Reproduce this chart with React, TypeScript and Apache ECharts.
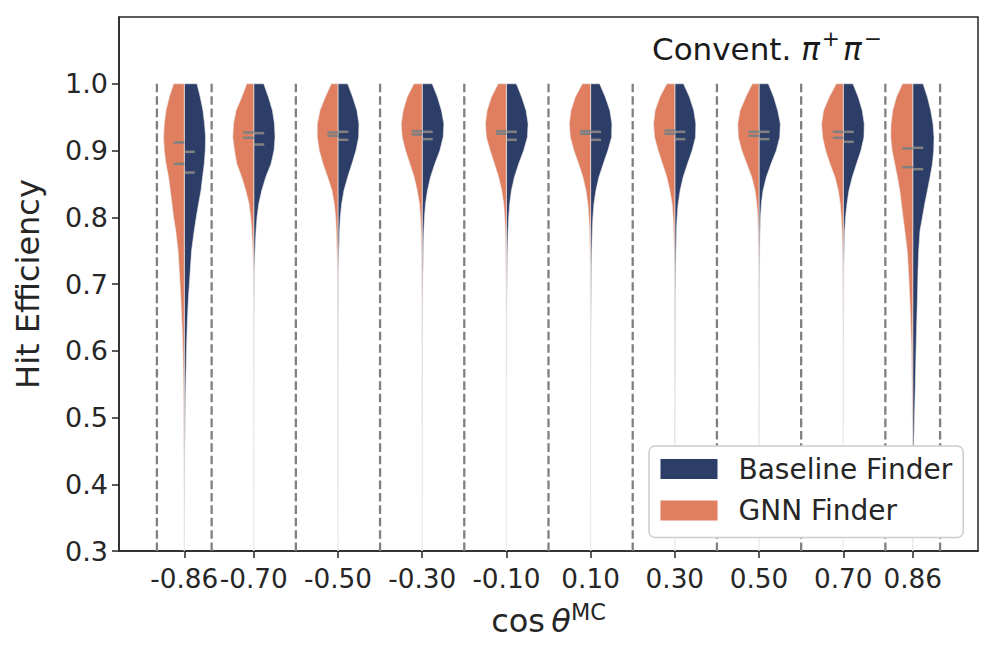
import React, { useEffect, useRef } from 'react';
import * as echarts from 'echarts';

// ---- data ----
const COS_CENTERS = [-0.865, -0.7, -0.5, -0.3, -0.1, 0.1, 0.3, 0.5, 0.7, 0.865];
const COS_LABELS = ['-0.86', '-0.70', '-0.50', '-0.30', '-0.10', '0.10', '0.30', '0.50', '0.70', '0.86'];
const BIN_EDGES = [-0.93, -0.8, -0.6, -0.4, -0.2, 0, 0.2, 0.4, 0.6, 0.8, 0.93];
const Y_TICKS = [0.3, 0.4, 0.5, 0.6, 0.7, 0.8, 0.9, 1.0];
const VLINE_RANGE = [1.0, 0.3];

// efficiency levels at which the violin half-widths (relative density) were read
const Y_LEVELS = [1.0, 0.98, 0.96, 0.94, 0.92, 0.9, 0.88, 0.86, 0.84, 0.82, 0.8, 0.78, 0.75, 0.72, 0.68, 0.64, 0.6, 0.55, 0.5, 0.45, 0.4, 0.35, 0.3];

const GNN_DENSITY = [
  [10.7, 15.0, 18.3, 20.0, 20.7, 20.0, 18.3, 15.7, 14.0, 12.3, 10.7, 8.6, 6.2, 5.0, 3.5, 2.3, 1.4, 0.9, 0.6, 0.4, 0.3, 0.2, 0.1],
  [7.0, 12.0, 17.7, 20.3, 21.0, 19.3, 17.0, 12.0, 8.0, 4.7, 3.0, 2.0, 1.0, 0.5, 0.3, 0.2, 0.15, 0.1, 0.1, 0.05, 0.05, 0.02, 0],
  [6.7, 12.7, 18.0, 20.7, 20.7, 18.7, 15.0, 10.3, 6.0, 3.7, 2.3, 1.7, 1.0, 0.6, 0.4, 0.3, 0.2, 0.15, 0.1, 0.05, 0.05, 0.02, 0],
  [8.3, 15.0, 19.0, 21.0, 20.0, 16.7, 12.3, 8.0, 5.0, 2.7, 1.7, 1.1, 0.7, 0.5, 0.35, 0.25, 0.2, 0.15, 0.1, 0.05, 0.05, 0.02, 0],
  [8.3, 15.0, 19.3, 21.0, 20.0, 16.3, 12.0, 7.7, 4.7, 2.7, 1.7, 1.1, 0.7, 0.5, 0.35, 0.25, 0.2, 0.15, 0.1, 0.05, 0.05, 0.02, 0],
  [8.3, 15.3, 19.7, 21.3, 20.3, 16.7, 12.0, 7.7, 4.7, 2.7, 1.7, 1.1, 0.7, 0.5, 0.35, 0.25, 0.2, 0.15, 0.1, 0.05, 0.05, 0.02, 0],
  [8.0, 15.0, 19.7, 21.3, 20.3, 16.7, 12.3, 8.0, 5.0, 2.7, 1.7, 1.1, 0.7, 0.5, 0.35, 0.25, 0.2, 0.15, 0.1, 0.05, 0.05, 0.02, 0],
  [6.7, 13.3, 19.0, 21.3, 20.7, 17.3, 12.3, 7.3, 4.0, 2.3, 1.3, 0.9, 0.6, 0.4, 0.3, 0.2, 0.15, 0.1, 0.1, 0.05, 0.05, 0.02, 0],
  [7.0, 14.0, 19.7, 21.7, 20.7, 17.7, 13.3, 8.3, 5.0, 3.0, 2.0, 1.3, 0.8, 0.5, 0.35, 0.25, 0.2, 0.15, 0.1, 0.05, 0.05, 0.02, 0],
  [10.3, 16.3, 20.0, 21.7, 22.0, 20.7, 18.0, 15.3, 13.0, 11.3, 9.7, 8.0, 5.5, 4.3, 3.0, 2.0, 1.3, 0.8, 0.5, 0.3, 0.2, 0.15, 0.1],
];

const BASE_DENSITY = [
  [12.7, 16.0, 18.7, 20.3, 21.3, 21.0, 20.0, 18.3, 16.7, 14.3, 12.0, 10.0, 7.3, 6.0, 4.2, 3.0, 2.2, 1.5, 1.0, 0.7, 0.5, 0.3, 0.2],
  [10.0, 14.7, 18.7, 20.7, 21.3, 20.3, 17.3, 12.0, 8.0, 5.0, 3.3, 2.3, 1.3, 0.7, 0.4, 0.3, 0.2, 0.15, 0.1, 0.1, 0.05, 0.05, 0],
  [9.7, 14.7, 19.0, 21.0, 20.7, 18.0, 14.0, 9.7, 6.0, 3.7, 2.3, 1.7, 1.0, 0.6, 0.4, 0.3, 0.2, 0.15, 0.1, 0.05, 0.05, 0.02, 0],
  [10.0, 15.3, 19.3, 21.7, 21.0, 17.7, 12.7, 8.3, 5.3, 3.3, 2.3, 1.7, 1.2, 0.9, 0.6, 0.45, 0.35, 0.25, 0.2, 0.15, 0.1, 0.05, 0],
  [10.0, 15.3, 19.7, 21.7, 21.0, 17.3, 12.3, 8.0, 5.0, 3.3, 2.3, 1.7, 1.2, 0.9, 0.6, 0.45, 0.35, 0.25, 0.2, 0.15, 0.1, 0.05, 0],
  [9.0, 14.7, 19.3, 21.3, 21.0, 17.3, 12.7, 8.3, 5.3, 3.3, 2.3, 1.7, 1.2, 0.9, 0.6, 0.45, 0.35, 0.25, 0.2, 0.15, 0.1, 0.05, 0],
  [8.7, 14.7, 19.0, 21.0, 20.7, 17.3, 12.7, 8.3, 5.3, 3.3, 2.3, 1.7, 1.2, 0.9, 0.6, 0.45, 0.35, 0.25, 0.2, 0.15, 0.1, 0.05, 0],
  [9.3, 14.7, 18.7, 21.3, 20.7, 17.3, 12.0, 7.3, 4.0, 2.3, 1.5, 1.1, 0.8, 0.6, 0.4, 0.3, 0.2, 0.15, 0.1, 0.05, 0.05, 0.02, 0],
  [9.7, 15.0, 19.0, 21.0, 20.7, 17.7, 13.3, 9.0, 5.7, 3.7, 2.3, 1.5, 1.0, 0.6, 0.4, 0.3, 0.2, 0.15, 0.1, 0.05, 0.05, 0.02, 0],
  [10.3, 14.7, 18.0, 20.3, 21.3, 21.0, 19.7, 17.3, 14.7, 12.0, 9.7, 7.3, 6.0, 5.3, 4.7, 4.0, 3.3, 2.6, 1.8, 0.9, 0.5, 0.3, 0.2],
];

const GNN_MEDIAN = [0.912, 0.927, 0.927, 0.929, 0.929, 0.929, 0.93, 0.928, 0.928, 0.903];
const GNN_MEAN = [0.88, 0.919, 0.922, 0.924, 0.925, 0.925, 0.925, 0.922, 0.919, 0.875];
const BASE_MEDIAN = [0.898, 0.926, 0.928, 0.928, 0.928, 0.928, 0.928, 0.928, 0.928, 0.904];
const BASE_MEAN = [0.867, 0.909, 0.916, 0.917, 0.916, 0.916, 0.917, 0.917, 0.913, 0.872];

// ---- styles ----
const NAVY = '#2c3e68';
const ORANGE = '#e07f60';
const INK = '#262626';
const FONT = 'DejaVu Sans';
const WIDTH_SCALE = 1 / 421; // density unit -> cos(theta) units
const MARK_LEN = 0.025;

function halfViolin(side: number, density: number[][], medians: number[], means: number[], color: string) {
  return (params: any, api: any) => {
    const i = params.dataIndex;
    const c = api.value(0);
    const d = density[i];
    const last = Y_LEVELS.length - 1;
    const pts: number[][] = [api.coord([c, Y_LEVELS[0]])];
    for (let k = 0; k < Y_LEVELS.length; k++) {
      pts.push(api.coord([c + side * d[k] * WIDTH_SCALE, Y_LEVELS[k]]));
    }
    pts.push(api.coord([c, Y_LEVELS[last]]));
    const children: any[] = [
      {
        type: 'polygon',
        shape: { points: pts },
        style: { fill: color, stroke: '#ececec', lineWidth: 0.6 },
      },
    ];
    [medians[i], means[i]].forEach((v) => {
      const p0 = api.coord([c, v]);
      const p1 = api.coord([c + side * MARK_LEN, v]);
      children.push({
        type: 'line',
        shape: { x1: p0[0], y1: p0[1], x2: p1[0], y2: p1[1] },
        style: { stroke: '#808080', lineWidth: 2.5 },
      });
    });
    return { type: 'group', children };
  };
}

export default function App() {
  const ref = useRef<HTMLDivElement>(null);
  useEffect(() => {
    if (!ref.current) return;
    const chart = echarts.init(ref.current, undefined, { renderer: 'svg' });
    const labelFor = (v: number) => {
      const idx = COS_CENTERS.findIndex((c) => Math.abs(c - v) < 1e-6);
      return idx >= 0 ? COS_LABELS[idx] : '';
    };
    const option: any = {
      animation: false,
      backgroundColor: '#ffffff',
      textStyle: { fontFamily: FONT },
      grid: {
        left: 119,
        top: 17,
        width: 859,
        height: 534,
        show: true,
        borderColor: INK,
        borderWidth: 1.5,
        backgroundColor: 'transparent',
      },
      xAxis: {
        type: 'value',
        min: -1.02,
        max: 1.02,
        name: '{n|cos\u2009}{i|θ}{s|MC}',
        nameLocation: 'middle',
        nameGap: 50,
        nameTextStyle: {
          rich: {
            n: { fontSize: 32, fontFamily: FONT, color: INK, lineHeight: 40 },
            i: { fontSize: 32, fontFamily: FONT, fontStyle: 'italic', color: INK, lineHeight: 40 },
            s: { fontSize: 22.4, fontFamily: FONT, color: INK, lineHeight: 22, verticalAlign: 'top' },
          },
        },
        axisLine: { show: true, onZero: false, lineStyle: { color: INK, width: 1.5 } },
        axisTick: { show: true, customValues: COS_CENTERS, length: 7, lineStyle: { color: INK, width: 1.5 } },
        axisLabel: {
          customValues: COS_CENTERS,
          formatter: (v: number) => labelFor(v),
          fontSize: 26.3,
          fontFamily: FONT,
          color: INK,
          margin: 15,
          hideOverlap: false,
          showMinLabel: true,
          showMaxLabel: true,
        },
        splitLine: { show: false },
      },
      yAxis: {
        type: 'value',
        min: 0.3,
        max: 1.1,
        name: 'Hit Efficiency',
        nameLocation: 'middle',
        nameGap: 75,
        nameTextStyle: { fontSize: 32, fontFamily: FONT, color: INK },
        axisLine: { show: true, onZero: false, lineStyle: { color: INK, width: 1.5 } },
        axisTick: { show: true, customValues: Y_TICKS, length: 7, lineStyle: { color: INK, width: 1.5 } },
        axisLabel: {
          customValues: Y_TICKS,
          formatter: (v: number) => v.toFixed(1),
          fontSize: 27,
          fontFamily: FONT,
          color: INK,
          margin: 11,
          hideOverlap: false,
        },
        splitLine: { show: false },
      },
      legend: {
        data: [
          { name: 'Baseline Finder', icon: 'rect' },
          { name: 'GNN Finder', icon: 'rect' },
        ],
        orient: 'vertical',
        left: 649,
        top: 446,
        itemWidth: 57,
        itemHeight: 20,
        itemGap: 7.5,
        padding: [6, 11, 10, 11.5],
        backgroundColor: '#ffffff',
        borderColor: '#cccccc',
        borderWidth: 1.5,
        borderRadius: 6,
        selectedMode: false,
        textStyle: { fontSize: 28, fontFamily: FONT, color: INK, lineHeight: 34, padding: [0, 0, 0, 16] },
      },
      graphic: [
        {
          type: 'text',
          left: 652,
          top: 27,
          style: {
            text: '{n|Convent. }{i|π}{s|+}{i|π}{s|−}',
            rich: {
              n: { fontSize: 31, fontFamily: FONT, fill: '#1a1a1a', lineHeight: 44 },
              i: { fontSize: 31, fontFamily: FONT, fontStyle: 'italic', fill: '#1a1a1a', lineHeight: 44 },
              s: { fontSize: 21.7, fontFamily: FONT, fill: '#1a1a1a', lineHeight: 22, verticalAlign: 'top', padding: [0, 3, 0, 2] },
            },
          },
          z: 10,
        },
      ],
      series: [
        {
          type: 'custom',
          name: 'edges',
          silent: true,
          z: 1,
          data: BIN_EDGES.map((e) => [e, VLINE_RANGE[0]]),
          encode: { x: 0, y: 1 },
          renderItem: (params: any, api: any) => {
            const x = api.value(0);
            const p0 = api.coord([x, VLINE_RANGE[0]]);
            const p1 = api.coord([x, VLINE_RANGE[1]]);
            return {
              type: 'line',
              shape: { x1: p0[0], y1: p0[1], x2: p1[0], y2: p1[1] },
              style: { stroke: '#808080', lineWidth: 2.3, lineDash: [8.6, 3.8] },
            };
          },
        },
        {
          type: 'custom',
          name: 'Baseline Finder',
          silent: true,
          z: 3,
          itemStyle: { color: NAVY },
          data: COS_CENTERS.map((c) => [c, Y_LEVELS[0]]),
          encode: { x: 0, y: 1 },
          renderItem: halfViolin(1, BASE_DENSITY, BASE_MEDIAN, BASE_MEAN, NAVY),
        },
        {
          type: 'custom',
          name: 'GNN Finder',
          silent: true,
          z: 3,
          itemStyle: { color: ORANGE },
          data: COS_CENTERS.map((c) => [c, Y_LEVELS[0]]),
          encode: { x: 0, y: 1 },
          renderItem: halfViolin(-1, GNN_DENSITY, GNN_MEDIAN, GNN_MEAN, ORANGE),
        },
      ],
    };
    chart.setOption(option);
    return () => chart.dispose();
  }, []);
  return <div ref={ref} style={{ position: 'fixed', left: 0, top: 0, width: 998, height: 656 }} />;
}
